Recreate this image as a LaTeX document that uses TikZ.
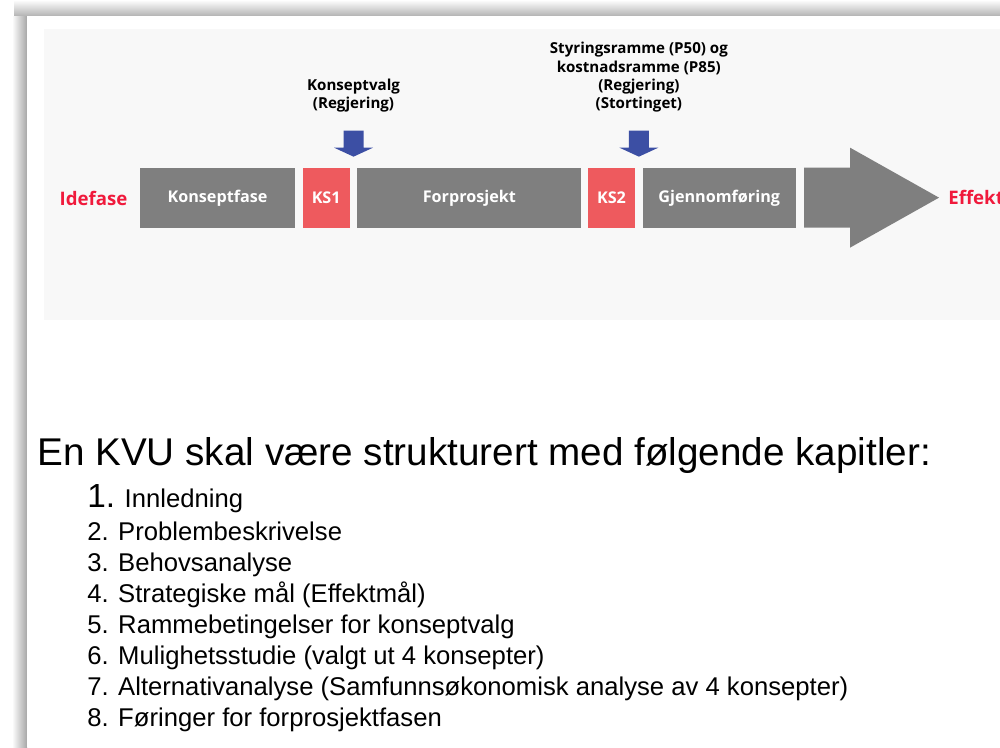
\documentclass[tikz,border=0pt]{standalone}
\usepackage{fontspec}
\setmainfont{Liberation Sans}
\newfontfamily\chartfont{Open Sans}
\usepackage{xcolor}
\definecolor{PHASECOLOR}{HTML}{7F7F7F}
\definecolor{GATECOLOR}{HTML}{EE5A5E}
\definecolor{DECISIONCOLOR}{HTML}{3C4FA4}
\definecolor{ENDCOLOR}{HTML}{F01A3C}
\definecolor{PANELCOLOR}{HTML}{F8F8F8}
\usetikzlibrary{positioning,calc}
\tikzset{
  basic-style/.style = {
    rectangle, fill=#1, text=white,
    font=\chartfont\bfseries\fontsize{9.2}{10}\selectfont,
    minimum height=1.2cm,
    inner sep=0pt
  },
  phase-style/.style = {
    basic-style=PHASECOLOR,
    minimum width=#1
  },
  gate-style/.style = {
    basic-style=GATECOLOR,
    minimum width=0.94cm
  },
  end-style/.style = {
    text=ENDCOLOR, inner sep=0pt,
    font=\chartfont\bfseries\fontsize{10.6}{13}\selectfont
  },
  label-style/.style = {
    align=center, inner sep=0pt,
    font=\chartfont\bfseries\fontsize{8.6}{10.4}\selectfont
  },
  item-style/.style = {
    anchor=base west, inner sep=0pt,
    font=\fontsize{14.6}{17}\selectfont
  }
}
\newlength\gateDistance
\setlength\gateDistance{0.14cm}
% #1 name, #2 top of the arrow, #3 label
\newcommand\createDecision[3]{
  \coordinate (#1) at (#2);
  \fill[DECISIONCOLOR] ([xshift=-0.2cm]#1) -- ++(0,-0.34cm) -- ++(-0.19cm,0)
    -- ++(0.39cm,-0.18cm) -- ++(0.39cm,0.18cm) -- ++(-0.19cm,0) -- ++(0,0.34cm) -- cycle;
  \node[label-style, above=0.36cm of #1] (#1-label) {#3};
}

\begin{document}
\begin{tikzpicture}[x=0.02cm, y=-0.02cm]
  \useasboundingbox (0,0) rectangle (1000,747);
  % sheet and shadow
  \shade[top color=white, bottom color=gray!60] (14,0) rectangle (1000,16);
  \shade[left color=white, right color=gray!70] (12,16) rectangle (27,747);
  \fill[white] (27,16) rectangle (1000,747);
  \fill[PANELCOLOR] (44,29) rectangle (1000,320);

  % phases
  \node[phase-style=3.1cm] (konsept) at (217.5,198) {Konseptfase};
  \node[gate-style, right=\gateDistance of konsept] (ks1) {KS1};
  \node[phase-style=4.48cm, right=\gateDistance of ks1] (forprosjekt) {Forprosjekt};
  \node[gate-style, right=0.12cm of forprosjekt] (ks2) {KS2};
  \node[phase-style=3.06cm, right=\gateDistance of ks2] (gjennomforing) {Gjennomføring};
  \fill[PHASECOLOR] ([xshift=0.16cm]gjennomforing.north east) -- ++(0.92cm,0) -- ++(0,0.4cm)
    -- ++(1.78cm,-1cm) coordinate (tip) -- ++(-1.78cm,-1cm) -- ++(0,0.4cm) -- ++(-0.92cm,0) -- cycle;

  \node[end-style, left=0.24cm of konsept] (idefase) {Idefase};
  \node[end-style, right=0.18cm of tip] (effekt) {Effekt};

  % decisions
  \createDecision{vedtak1}{$(ks1.north east)!0.5!(forprosjekt.north west)+(0,0.74cm)$}{Konseptvalg\\(Regjering)}
  \createDecision{vedtak2}{$(ks2.north east)!0.5!(gjennomforing.north west)+(0,0.74cm)$}{Styringsramme (P50) og\\kostnadsramme (P85)\\(Regjering)\\(Stortinget)}

  % chapters
  \node[anchor=base west, inner sep=0pt, font=\fontsize{22}{26}\selectfont] (heading) at (37,465)
    {En KVU skal være strukturert med følgende kapitler:};
  \node[item-style] (item-1) at (87,507) {{\fontsize{19}{20}\selectfont 1.} Innledning};
  \foreach \n/\txt [count=\i] in {2/Problembeskrivelse, 3/Behovsanalyse,
      4/{Strategiske mål (Effektmål)}, 5/{Rammebetingelser for konseptvalg},
      6/{Mulighetsstudie (valgt ut 4 konsepter)},
      7/{Alternativanalyse (Samfunnsøkonomisk analyse av 4 konsepter)},
      8/{Føringer for forprosjektfasen}}
    \node[item-style] (item-\n) at (87,{509+31*\i}) {\n. \txt};
\end{tikzpicture}
\end{document}
